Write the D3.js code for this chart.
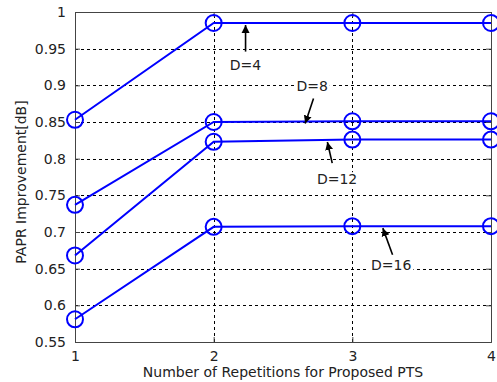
<!DOCTYPE html>
<html>
<head>
<meta charset="utf-8">
<script src="https://cdn.jsdelivr.net/npm/d3@7"></script>
<style>
  html, body { margin: 0; padding: 0; background: #fff; }
  svg { display: block; }
  text { font-family: "DejaVu Sans", "Liberation Sans", sans-serif; fill: #222; }
</style>
</head>
<body>
<svg id="chart" width="497" height="382"></svg>
<script>
// Repetition counts on the x axis
const repetitions = [1, 2, 3, 4];
// PAPR improvement [dB] for each subblock count D
const seriesNames = ["D=4", "D=8", "D=12", "D=16"];
const improvD4  = [0.853, 0.985, 0.985, 0.985];
const improvD8  = [0.737, 0.850, 0.851, 0.851];
const improvD12 = [0.668, 0.823, 0.826, 0.826];
const improvD16 = [0.581, 0.707, 0.708, 0.708];
const xTicks = [1, 2, 3, 4];
const yTicks = [0.55, 0.6, 0.65, 0.7, 0.75, 0.8, 0.85, 0.9, 0.95, 1];
const yTickLabels = ["0.55", "0.6", "0.65", "0.7", "0.75", "0.8", "0.85", "0.9", "0.95", "1"];
// Annotation arrows: which series, where the head touches it, tail end and label anchor (data units)
const annotations = [
  { name: "D=4",  series: 0, atX: 2.23, tailX: 2.23, tailY: 0.946, labelX: 2.23, labelY: 0.928 },
  { name: "D=8",  series: 1, atX: 2.66, tailX: 2.72, tailY: 0.882, labelX: 2.71, labelY: 0.899 },
  { name: "D=12", series: 2, atX: 2.82, tailX: 2.855, tailY: 0.794, labelX: 2.89, labelY: 0.772 },
  { name: "D=16", series: 3, atX: 3.22, tailX: 3.29, tailY: 0.669, labelX: 3.28, labelY: 0.655 }
];

const allSeries = [improvD4, improvD8, improvD12, improvD16];

const svg = d3.select("#chart");
const margin = { top: 12, right: 6, bottom: 40, left: 75 };
const W = 497, H = 382;
const x = d3.scaleLinear().domain([1, 4]).range([margin.left, W - margin.right]);
const y = d3.scaleLinear().domain([0.55, 1]).range([H - margin.bottom, margin.top]);

const gGrid = svg.append("g");
// dotted grid lines
gGrid.selectAll("line.hg").data(yTicks.filter(v => v > 0.55 && v < 1)).join("line")
  .attr("x1", x(1)).attr("x2", x(4))
  .attr("y1", d => Math.round(y(d)) + 0.5).attr("y2", d => Math.round(y(d)) + 0.5)
  .attr("stroke", "#000").attr("stroke-width", 1).attr("stroke-dasharray", "3,3");
gGrid.selectAll("line.vg").data(xTicks.filter(v => v > 1 && v < 4)).join("line")
  .attr("y1", y(0.55)).attr("y2", y(1))
  .attr("x1", d => Math.round(x(d)) + 0.5).attr("x2", d => Math.round(x(d)) + 0.5)
  .attr("stroke", "#000").attr("stroke-width", 1).attr("stroke-dasharray", "3,3");

// axes with inward ticks
const axisColor = "#444";
const yAxisL = d3.axisLeft(y).tickValues(yTicks).tickSize(-5).tickFormat((d, i) => yTickLabels[i]).tickPadding(9);
const yAxisR = d3.axisRight(y).tickValues(yTicks).tickSize(-5).tickFormat("");
const xAxisB = d3.axisBottom(x).tickValues(xTicks).tickSize(-5).tickFormat(d3.format("d")).tickPadding(9);
const xAxisT = d3.axisTop(x).tickValues(xTicks).tickSize(-5).tickFormat("");

function styleAxis(g) {
  g.select(".domain").attr("stroke", axisColor);
  g.selectAll(".tick line").attr("stroke", axisColor);
  g.selectAll(".tick text").attr("fill", "#222").style("font-size", "14px")
    .style("font-family", "'DejaVu Sans', sans-serif");
}
svg.append("g").attr("transform", `translate(${x(1)},0)`).call(yAxisL).call(styleAxis);
svg.append("g").attr("transform", `translate(${x(4)},0)`).call(yAxisR).call(styleAxis);
svg.append("g").attr("transform", `translate(0,${y(0.55)})`).call(xAxisB).call(styleAxis);
svg.append("g").attr("transform", `translate(0,${y(1)})`).call(xAxisT).call(styleAxis);

// series lines and circle markers
const line = d3.line().x((d, i) => x(repetitions[i])).y(d => y(d));
const gSeries = svg.append("g");
allSeries.forEach(vals => {
  gSeries.append("path").datum(vals).attr("d", line)
    .attr("fill", "none").attr("stroke", "#0000ff").attr("stroke-width", 2);
  gSeries.selectAll(null).data(vals).join("circle")
    .attr("cx", (d, i) => x(repetitions[i])).attr("cy", d => y(d)).attr("r", 8)
    .attr("fill", "none").attr("stroke", "#0000ff").attr("stroke-width", 2);
});

// annotation arrows and labels
svg.append("defs").append("marker")
  .attr("id", "arrowHead").attr("viewBox", "0 0 10 10").attr("refX", 10).attr("refY", 5)
  .attr("markerWidth", 5).attr("markerHeight", 7).attr("markerUnits", "strokeWidth")
  .attr("orient", "auto")
  .append("path").attr("d", "M0,0 L10,5 L0,10 Z").attr("fill", "#000");

function valueAt(vals, xv) {
  const i = Math.min(Math.floor(xv) - 1, vals.length - 2);
  const t = xv - repetitions[i];
  return vals[i] + (vals[i + 1] - vals[i]) * t;
}
const gAnn = svg.append("g");
annotations.forEach(a => {
  const headY = y(valueAt(allSeries[a.series], a.atX));
  gAnn.append("line")
    .attr("x1", x(a.tailX)).attr("y1", y(a.tailY))
    .attr("x2", x(a.atX)).attr("y2", headY + 2)
    .attr("stroke", "#000").attr("stroke-width", 1.6).attr("marker-end", "url(#arrowHead)");
  // white box behind each label hides the grid underneath
  const bg = gAnn.append("rect").attr("fill", "#fff");
  const t = gAnn.append("text").attr("x", x(a.labelX)).attr("y", y(a.labelY))
    .attr("text-anchor", "middle").attr("dominant-baseline", "central")
    .style("font-size", "14px").text(a.name);
  const bb = t.node().getBBox();
  bg.attr("x", bb.x - 2).attr("y", bb.y + 1).attr("width", bb.width + 4).attr("height", bb.height - 2);
});

// axis titles
svg.append("text").attr("x", 283).attr("y", 377).attr("text-anchor", "middle")
  .style("font-size", "14px").text("Number of Repetitions for Proposed PTS");
svg.append("text").attr("transform", `translate(26,${(y(0.55) + y(1)) / 2 + 5}) rotate(-90)`)
  .attr("text-anchor", "middle").style("font-size", "14px").text("PAPR Improvement[dB]");
</script>
</body>
</html>
